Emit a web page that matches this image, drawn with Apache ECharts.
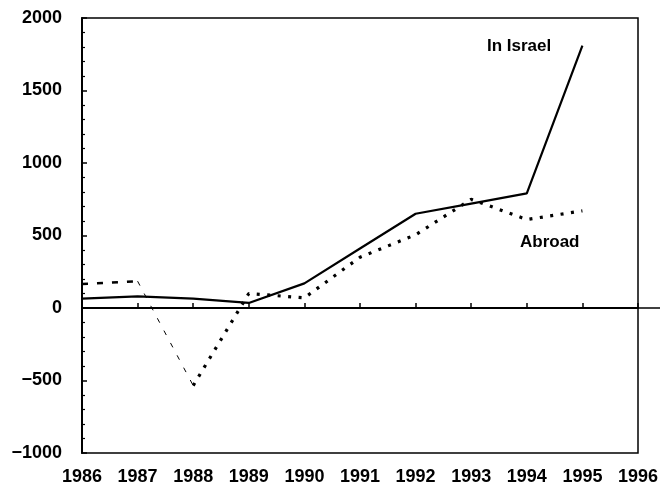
<!DOCTYPE html>
<html>
<head>
<meta charset="utf-8">
<script src="https://cdn.jsdelivr.net/npm/echarts@6/dist/echarts.min.js"></script>
<style>html,body{margin:0;padding:0;background:#fff}#c{width:663px;height:489px}</style>
</head>
<body>
<div id="c"></div>
<script>
const years = [1986, 1987, 1988, 1989, 1990, 1991, 1992, 1993, 1994, 1995];
const inIsrael = [65, 80, 65, 35, 170, 410, 650, 720, 790, 1810];
const abroad = [165, 185, -535, 100, 70, 350, 505, 750, 610, 670];
const xTicks = [1986, 1996, 1];
const yTicks = [-1000, 2000, 500];
const seriesNames = ['In Israel', 'Abroad'];

const israelPts = years.map((y, i) => [y, inIsrael[i]]);
const abroadPts = years.map((y, i) => [y, abroad[i]]);

const chart = echarts.init(document.getElementById('c'), null, {renderer: 'canvas'});
const fontFam = '"Liberation Sans", Arial, Helvetica, sans-serif';
const option = {
  backgroundColor: '#fff',
  animation: false,
  grid: {left: 82, right: 25, top: 18, bottom: 36, show: true, borderColor: '#000', borderWidth: 1.5, backgroundColor: 'transparent'},
  xAxis: {
    type: 'value', min: xTicks[0], max: xTicks[1], interval: xTicks[2],
    axisLine: {show: true, lineStyle: {color: '#000', width: 2}},
    axisTick: {show: true, inside: true, length: 5, lineStyle: {color: '#000', width: 1.5}},
    splitLine: {show: false},
    axisLabel: {color: '#000', fontSize: 18, fontWeight: 'bold', fontFamily: fontFam, margin: 15,
      formatter: v => String(v)}
  },
  yAxis: {
    type: 'value', min: yTicks[0], max: yTicks[1], interval: yTicks[2],
    axisLine: {show: true, lineStyle: {color: '#000', width: 2}},
    axisTick: {show: true, inside: true, length: 5, lineStyle: {color: '#000', width: 1.5}},
    minorTick: {show: true, splitNumber: 5, length: 3, lineStyle: {color: '#000', width: 1.2}},
    splitLine: {show: false},
    axisLabel: {color: '#000', fontSize: 18, fontWeight: 'bold', fontFamily: fontFam, margin: 20,
      formatter: v => v < 0 ? '\u2212' + Math.abs(v) : String(v)}
  },
  series: [
    {
      name: seriesNames[0], type: 'line', data: israelPts, showSymbol: false,
      lineStyle: {color: '#000', width: 2.2, type: 'solid'},
      markLine: {silent: true, symbol: 'none', label: {show: false},
        lineStyle: {color: '#000', width: 1.5, type: 'solid'}, data: [{yAxis: 0}]},
      z: 3
    },
    {
      name: seriesNames[1], type: 'line', data: abroadPts.slice(0, 2), showSymbol: false,
      lineStyle: {color: '#000', width: 2.5, type: [6, 9]}
    },
    {
      name: seriesNames[1], type: 'line', data: abroadPts.slice(1, 3), showSymbol: false,
      lineStyle: {color: '#000', width: 1, type: [5, 9]}
    },
    {
      name: seriesNames[1], type: 'line', data: abroadPts.slice(2), showSymbol: false,
      lineStyle: {color: '#000', width: 3.2, type: [3, 7.5]}
    }
  ],
  graphic: [
    {type: 'text', left: 487, top: 38, style: {text: seriesNames[0], fill: '#000', font: 'bold 17px ' + fontFam}},
    {type: 'text', left: 520, top: 234, style: {text: seriesNames[1], fill: '#000', font: 'bold 17px ' + fontFam}}
  ]
};
chart.setOption(option);
const p = chart.convertToPixel({gridIndex: 0}, [xTicks[1], 0]);
chart.setOption({graphic: option.graphic.concat([
  {type: 'line', shape: {x1: p[0], y1: p[1], x2: 660, y2: p[1]}, style: {stroke: '#000', lineWidth: 1.5}}
])});
</script>
</body>
</html>
